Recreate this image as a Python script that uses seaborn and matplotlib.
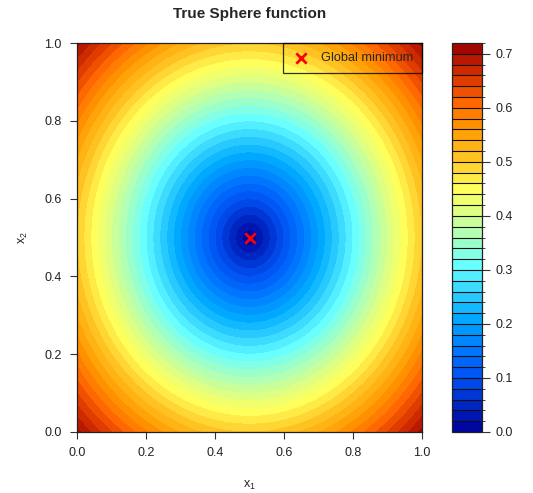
import numpy as np
import matplotlib
matplotlib.use("Agg")
import matplotlib.pyplot as plt
from matplotlib.colors import LinearSegmentedColormap, ListedColormap, BoundaryNorm
import seaborn as sns

# dados: grade do dominio e niveis do contorno
x1 = np.linspace(0, 1, 301)
x2 = np.linspace(0, 1, 301)
levels = np.round(np.arange(0, 0.7201, 0.02), 2)
cbar_ticks = [0.0, 0.1, 0.2, 0.3, 0.4, 0.5, 0.6, 0.7]
axis_ticks = [0.0, 0.2, 0.4, 0.6, 0.8, 1.0]
min_x1 = [0.5]
min_x2 = [0.5]

# funcao "verdadeira" (distancia ao centro)
X1, X2 = np.meshgrid(x1, x2)
Z = np.sqrt((X1 - 0.5) ** 2 + (X2 - 0.5) ** 2)

# paleta parecida com a do R
anchors = [(0.00, "#00009A"), (0.07, "#0028C4"), (0.14, "#0050F0"),
           (0.20, "#0070FF"), (0.29, "#00A8FF"), (0.37, "#38D8FF"),
           (0.43, "#68FFFF"), (0.50, "#A8FFC0"), (0.58, "#E8FF78"),
           (0.63, "#FFFF58"), (0.70, "#FFC828"), (0.78, "#FF9A00"),
           (0.85, "#FF6600"), (0.92, "#D83200"), (1.00, "#990000")]
base = LinearSegmentedColormap.from_list("jetlike", anchors)
nbins = len(levels) - 1
cmap = ListedColormap([base((i + 0.5) / nbins) for i in range(nbins)])
norm = BoundaryNorm(levels, nbins)

sns.set_style("ticks")
plt.rcParams['font.family'] = ['Liberation Sans', 'DejaVu Sans']
plt.rcParams['mathtext.fontset'] = 'custom'
plt.rcParams['mathtext.rm'] = 'Liberation Sans'
plt.rcParams['mathtext.it'] = 'Liberation Sans'

fig = plt.figure(figsize=(5.33, 4.93), dpi=100)
ax = fig.add_axes([77 / 533, 1 - 432 / 493, 345 / 533, 389 / 493])
cax = fig.add_axes([452 / 533, 1 - 432 / 493, 30 / 533, 389 / 493])

cf = ax.contourf(X1, X2, Z, levels=levels, cmap=cmap, norm=norm)

sns.scatterplot(x=min_x1, y=min_x2, marker='x', color='red', s=55,
                linewidth=2, label='Global minimum', ax=ax, zorder=5)

ax.set_xlim(0, 1)
ax.set_ylim(0, 1)
ax.set_xticks(axis_ticks)
ax.set_yticks(axis_ticks)
ax.set_xticklabels([f"{t:.1f}" for t in axis_ticks])
ax.set_yticklabels([f"{t:.1f}" for t in axis_ticks])
ax.tick_params(direction='out', length=5, width=0.8, colors='#333333',
               labelsize=9, pad=6, labelcolor='#222222')
for s in ax.spines.values():
    s.set_color('#222222')
    s.set_linewidth(0.9)
ax.set_xlabel(r'$\mathregular{x_1}$', fontsize=9, labelpad=14)
ax.set_ylabel(r'$\mathregular{x_2}$', fontsize=9, labelpad=10)
ax.set_title('True Sphere function', fontsize=11, fontweight='bold', pad=18)

leg = ax.legend(loc='upper right', borderaxespad=0, fancybox=False,
                facecolor='none', edgecolor='black', fontsize=9.2,
                handletextpad=0.94, borderpad=0.72, handlelength=1.25)
leg.get_frame().set_linewidth(0.9)

cb = fig.colorbar(cf, cax=cax, drawedges=True, ticks=cbar_ticks)
cb.outline.set_edgecolor('#222222')
cb.outline.set_linewidth(0.9)
cb.dividers.set_color('#111111')
cb.dividers.set_linewidth(0.8)
cb.ax.set_yticklabels([f"{t:.1f}" for t in cbar_ticks])
cb.ax.tick_params(direction='out', length=6, width=0.8, colors='#333333',
                  labelsize=9, pad=4, labelcolor='#222222')

fig.savefig("out.png", dpi=100)
